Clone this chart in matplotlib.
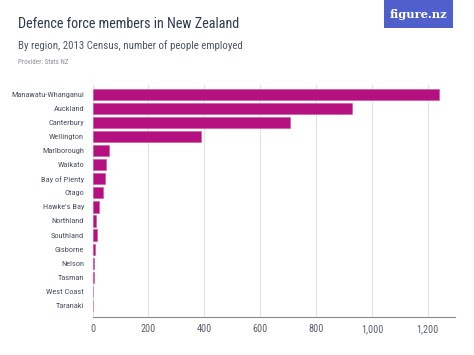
import matplotlib.pyplot as plt
from matplotlib.patches import Rectangle

# Defence force members by region, 2013 Census (Stats NZ)
regions = [
    "Manawatu-Whanganui", "Auckland", "Canterbury", "Wellington", "Marlborough",
    "Waikato", "Bay of Plenty", "Otago", "Hawke's Bay", "Northland",
    "Southland", "Gisborne", "Nelson", "Tasman", "West Coast", "Taranaki",
]
members = [1238, 929, 707, 388, 58, 50, 43, 37, 25, 14, 15, 8, 5, 5, 3, 3]
x_ticks = [0, 200, 400, 600, 800, 1000, 1200]
x_tick_labels = ["0", "200", "400", "600", "800", "1,000", "1,200"]

W, H = 474, 355
FONT = "Roboto Condensed"
fig = plt.figure(figsize=(W / 100, H / 100), dpi=100)
fig.patch.set_facecolor("white")

# axes placed in pixel coordinates
left, right, top, bottom = 92.5, 455, 85, 317
ax = fig.add_axes([left / W, 1 - bottom / H, (right - left) / W, (bottom - top) / H])

bar_color = "#b5107f"
ax.barh(range(len(regions)), members, height=0.8, color=bar_color,
        edgecolor="#d0509f", linewidth=0.4, zorder=3)
ax.set_ylim(15.82, -0.66)
ax.set_xlim(0, 1297)

ax.set_yticks(range(len(regions)))
ax.set_yticklabels(regions, fontsize=6.0, color="#4a5160", family=FONT)
ax.set_xticks(x_ticks)
ax.set_xticklabels(x_tick_labels, fontsize=7.3, color="#5a6170", family=FONT)
ax.set_xticks([0], minor=True)
ax.tick_params(axis="y", length=0, pad=6)
ax.tick_params(axis="x", which="major", length=0, pad=5)
ax.tick_params(axis="x", which="minor", length=3, color="#8a8a8a", width=0.8)

ax.grid(axis="x", color="#e2e2e2", linewidth=0.8, zorder=0)
for side in ("top", "right", "left"):
    ax.spines[side].set_visible(False)
ax.spines["bottom"].set_color("#8a8a8a")
ax.spines["bottom"].set_linewidth(0.8)

# header text
fig.text(18 / W, 1 - 24 / H, "Defence force members in New Zealand",
         fontsize=10.2, color="#2d3a4e", va="center", ha="left", family=FONT)
fig.text(18 / W, 1 - 46 / H, "By region, 2013 Census, number of people employed",
         fontsize=7.8, color="#4d5666", va="center", ha="left", family=FONT)
fig.text(18 / W, 1 - 63 / H, "Provider: Stats NZ",
         fontsize=5, color="#8a8f98", va="center", ha="left", family=FONT)

# figure.nz badge
fig.patches.append(Rectangle((384 / W, 1 - 28 / H), 69 / W, 28 / H,
                             transform=fig.transFigure, facecolor="#4f5fcb",
                             edgecolor="none"))
fig.text(418.5 / W, 1 - 14 / H, "figure.nz", fontsize=8.2, color="white",
         family="DejaVu Serif", weight="bold", va="center", ha="center")

fig.savefig("out.png", dpi=100)
